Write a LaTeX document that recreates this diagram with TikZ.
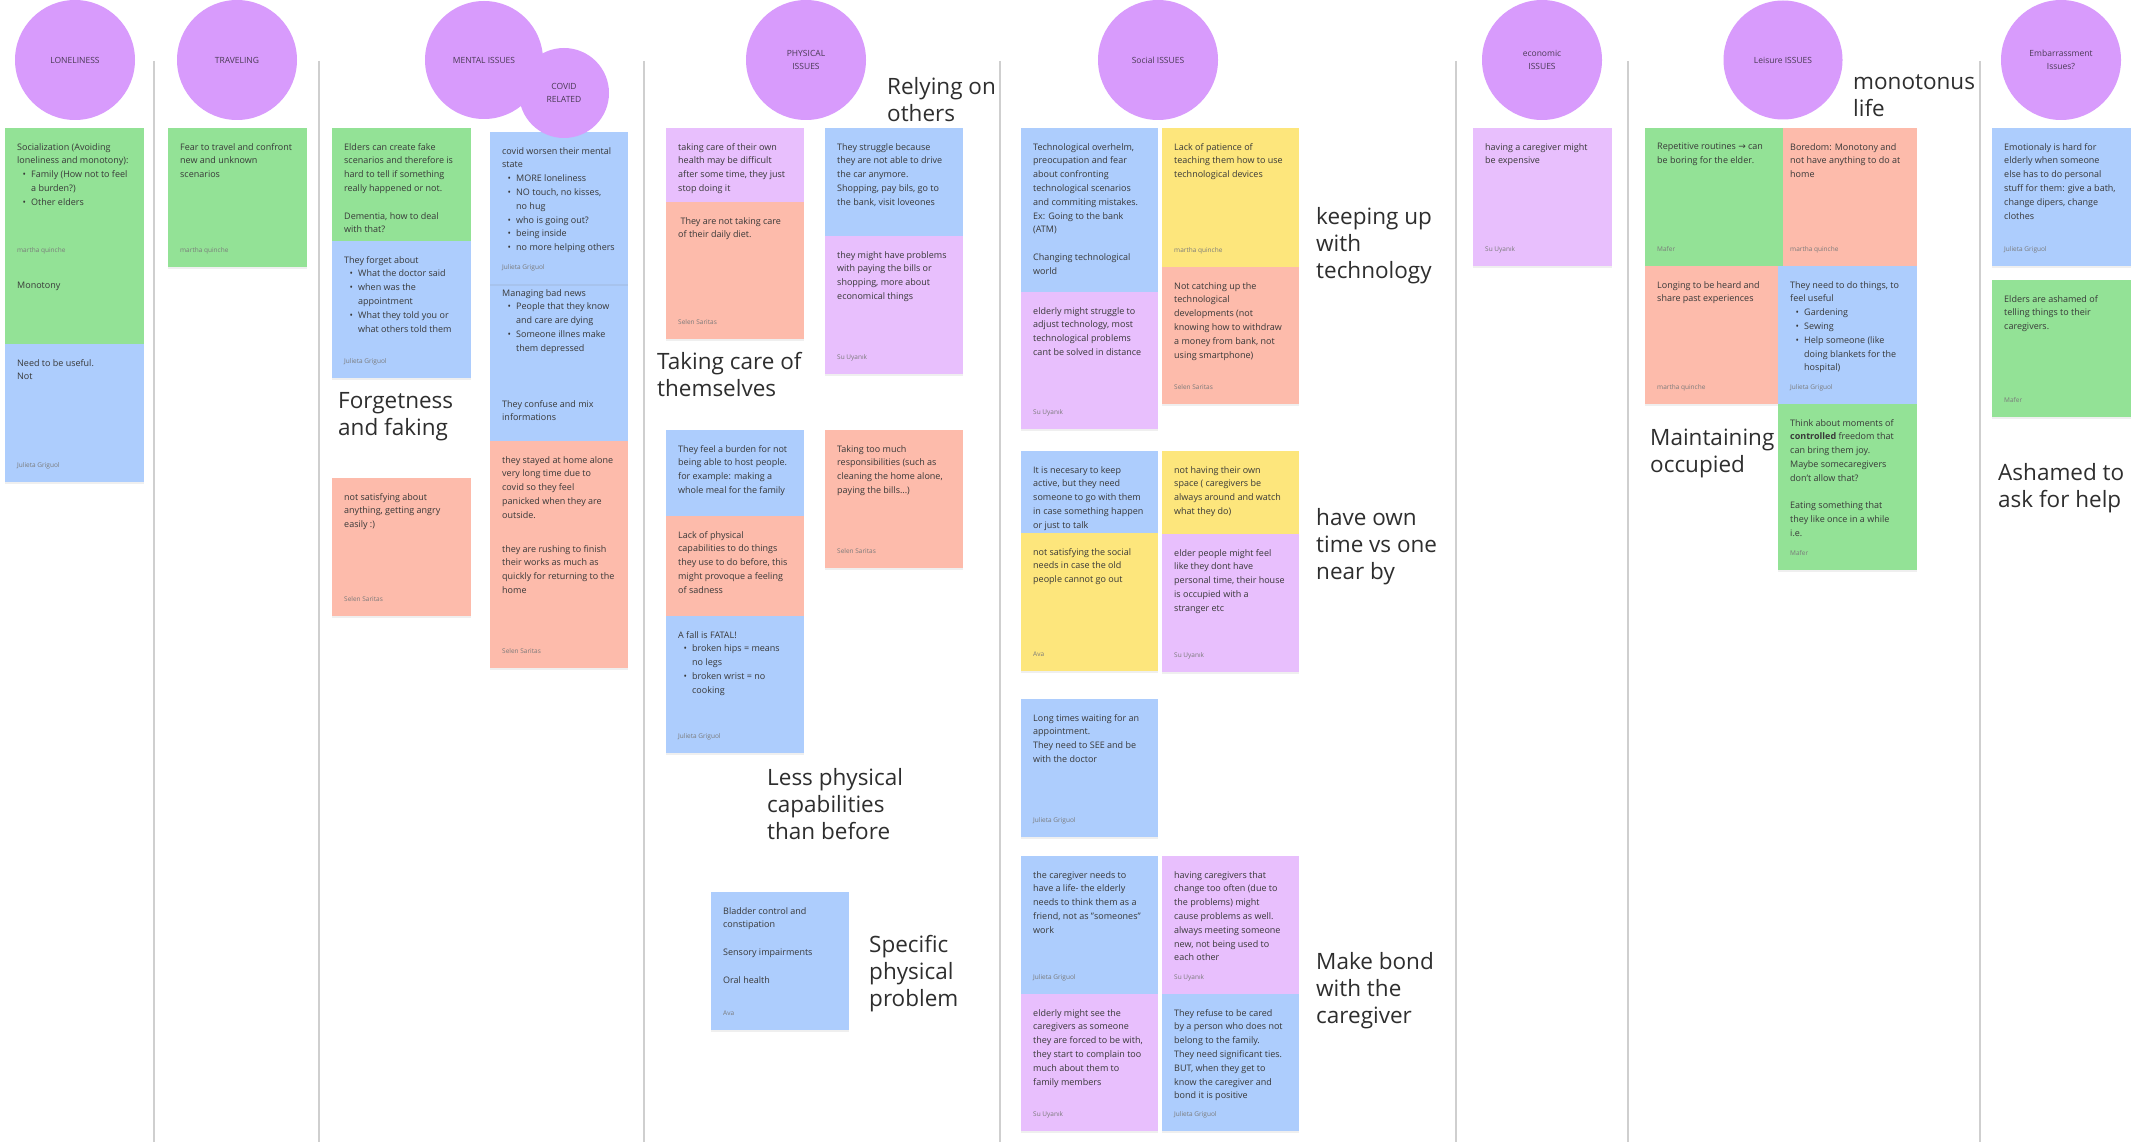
\documentclass[tikz,border=0pt]{standalone}
\usepackage{fontspec}
\setmainfont{Open Sans}
\newfontfamily\arrowfont{DejaVu Sans}
\usetikzlibrary{positioning,shadows}
\definecolor{bubble}{HTML}{D89BFC}
\definecolor{grn}{HTML}{93E296}
\definecolor{blu}{HTML}{ADCDFD}
\definecolor{salm}{HTML}{FDBBAB}
\definecolor{lil}{HTML}{E8BFFD}
\definecolor{yel}{HTML}{FDE67C}
\definecolor{ink}{HTML}{383838}
\definecolor{circink}{HTML}{4A3A55}
\definecolor{whocol}{HTML}{7A7A7A}
\definecolor{bigink}{HTML}{2E2E2E}
\definecolor{rulecol}{HTML}{CFCFCF}
\newcommand{\itm}{\makebox[14pt][c]{\textbullet}}
\newcommand{\cnt}{\hspace*{14pt}}
\tikzset{
  stick/.style={fill=#1,minimum width=139pt,minimum height=139pt,anchor=north west,inner sep=0pt,
    drop shadow={opacity=0.12,shadow xshift=0pt,shadow yshift=-1.5pt}},
  txt/.style={font=\fontsize{9}{13.8}\selectfont,text=ink,align=left,inner sep=0pt},
  who/.style={font=\fontsize{6.5}{8}\selectfont,text=whocol,inner sep=0pt,text depth=0pt},
  issue/.style={circle,fill=bubble,minimum size=120pt,inner sep=0pt,align=center,
    font=\fontsize{8.5}{13.5}\selectfont,text=circink},
  big/.style={font=\fontsize{22.5}{27}\selectfont,text=bigink,align=left,anchor=north west,inner sep=0pt},
  divider/.style={rulecol,line width=1.5pt}
}
\begin{document}
\begin{tikzpicture}[x=1pt,y=-1pt]
  \fill[white] (0,0) rectangle (2136,1142);
  \useasboundingbox (0,0) rectangle (2136,1142);
  % column dividers
  \foreach \cx in {154,319,644,1000,1456,1628,1980}
    \draw[divider] (\cx,61) -- (\cx,1142);

  % loneliness
  \node[stick=grn] (lon1) at (5,128) {};
  \node[txt,below right=15pt and 12pt of lon1.north west] (lon1t) {Socialization (Avoiding\\loneliness and monotony):\\\itm Family (How not to feel\\\cnt a burden?)\\\itm Other elders};
  \node[who,above right=14.5pt and 12pt of lon1.south west] (lon1w) {martha quinche};
  \node[stick=grn] (lon2) at (5,267) {};
  \node[txt,below right=15pt and 12pt of lon2.north west] (lon2t) {Monotony};
  \node[stick=blu,minimum height=138pt] (lon3) at (5,344) {};
  \node[txt,below right=15pt and 12pt of lon3.north west] (lon3t) {Need to be useful.\\Not};
  \node[who,above right=14.5pt and 12pt of lon3.south west] (lon3w) {Julieta Griguol};

  % traveling
  \node[stick=grn] (trv1) at (168,128) {};
  \node[txt,below right=15pt and 12pt of trv1.north west] (trv1t) {Fear to travel and confront\\new and unknown\\scenarios};
  \node[who,above right=14.5pt and 12pt of trv1.south west] (trv1w) {martha quinche};

  % mental issues
  \node[stick=grn] (men1) at (332,128) {};
  \node[txt,below right=15pt and 12pt of men1.north west] (men1t) {Elders can create fake\\scenarios and therefore is\\hard to tell if something\\really happened or not.\\[13.8pt]Dementia, how to deal\\with that?};
  \node[stick=blu,minimum height=137pt] (men2) at (332,241) {};
  \node[txt,below right=15pt and 12pt of men2.north west] (men2t) {They forget about\\\itm What the doctor said\\\itm when was the\\\cnt appointment\\\itm What they told you or\\\cnt what others told them};
  \node[who,above right=14.5pt and 12pt of men2.south west] (men2w) {Julieta Griguol};
  \node[big] (forget) at (338,392) {Forgetness\\and faking};
  \node[stick=salm,minimum height=138pt] (men3) at (332,478) {};
  \node[txt,below right=15pt and 12pt of men3.north west] (men3t) {not satisfying about\\anything, getting angry\\easily :)};
  \node[who,above right=14.5pt and 12pt of men3.south west] (men3w) {Selen Saritas};

  \node[stick=blu,minimum width=138pt] (cov2) at (490,274) {};
  \node[txt,below right=15pt and 12pt of cov2.north west] (cov2t) {Managing bad news\\\itm People that they know\\\cnt and care are dying\\\itm Someone illnes make\\\cnt them depressed};
  \node[stick=blu,minimum width=138pt,minimum height=152pt] (cov1) at (490,132) {};
  \node[txt,below right=15pt and 12pt of cov1.north west] (cov1t) {covid worsen their mental\\state\\\itm MORE loneliness\\\itm NO touch, no kisses,\\\cnt no hug\\\itm who is going out?\\\itm being inside\\\itm no more helping others};
  \node[who,above right=14.5pt and 12pt of cov1.south west] (cov1w) {Julieta Griguol};
  \node[stick=blu,minimum width=138pt,minimum height=56pt,drop shadow={opacity=0}] (cov3) at (490,385) {};
  \node[txt,below right=15pt and 12pt of cov3.north west] (cov3t) {They confuse and mix\\informations};
  \node[stick=salm,minimum width=138pt] (cov4) at (490,441) {};
  \node[txt,below right=15pt and 12pt of cov4.north west] (cov4t) {they stayed at home alone\\very long time due to\\covid so they feel\\panicked when they are\\outside.};
  \node[stick=salm,minimum width=138pt,minimum height=138pt,drop shadow={opacity=0}] (cov5) at (490,530) {};
  \node[txt,below right=15pt and 12pt of cov5.north west] (cov5t) {they are rushing to finish\\their works as much as\\quickly for returning to the\\home};
  \node[who,above right=14.5pt and 12pt of cov5.south west] (cov5w) {Selen Saritas};

  % physical issues
  \node[stick=lil,minimum width=138pt] (phy1) at (666,128) {};
  \node[txt,below right=15pt and 12pt of phy1.north west] (phy1t) {taking care of their own\\health may be difficult\\after some time, they just\\stop doing it};
  \node[stick=salm,minimum width=138pt,minimum height=137pt] (phy2) at (666,202) {};
  \node[txt,below right=15pt and 12pt of phy2.north west] (phy2t) {\ They are not taking care\\of their daily diet.};
  \node[who,above right=14.5pt and 12pt of phy2.south west] (phy2w) {Selen Saritas};
  \node[big] (selfcare) at (657,352) {Taking care of\\themselves};
  \node[stick=blu,minimum width=138pt] (phy3) at (825,128) {};
  \node[txt,below right=15pt and 12pt of phy3.north west] (phy3t) {They struggle because\\they are not able to drive\\the car anymore.\\Shopping, pay bils, go to\\the bank, visit loveones};
  \node[stick=lil,minimum width=138pt,minimum height=138pt] (phy4) at (825,236) {};
  \node[txt,below right=15pt and 12pt of phy4.north west] (phy4t) {they might have problems\\with paying the bills or\\shopping, more about\\economical things};
  \node[who,above right=14.5pt and 12pt of phy4.south west] (phy4w) {Su Uyanık};
  \node[big] (relying) at (887,77) {Relying on\\others};

  \node[stick=blu,minimum width=138pt] (phy5) at (666,430) {};
  \node[txt,below right=15pt and 12pt of phy5.north west] (phy5t) {They feel a burden for not\\being able to host people.\\for example: making a\\whole meal for the family};
  \node[stick=salm,minimum width=138pt] (phy6) at (666,516) {};
  \node[txt,below right=15pt and 12pt of phy6.north west] (phy6t) {Lack of physical\\capabilities to do things\\they use to do before, this\\might provoque a feeling\\of sadness};
  \node[stick=blu,minimum width=138pt,minimum height=137pt] (phy7) at (666,616) {};
  \node[txt,below right=15pt and 12pt of phy7.north west] (phy7t) {A fall is FATAL!\\\itm broken hips = means\\\cnt no legs\\\itm broken wrist = no\\\cnt cooking};
  \node[who,above right=14.5pt and 12pt of phy7.south west] (phy7w) {Julieta Griguol};
  \node[stick=salm,minimum width=138pt,minimum height=138pt] (phy8) at (825,430) {};
  \node[txt,below right=15pt and 12pt of phy8.north west] (phy8t) {Taking too much\\responsibilities (such as\\cleaning the home alone,\\paying the bills...)};
  \node[who,above right=14.5pt and 12pt of phy8.south west] (phy8w) {Selen Saritas};
  \node[big] (lessphy) at (767,768) {Less physical\\capabilities\\than before};
  \node[stick=blu,minimum width=138pt,minimum height=138pt] (phy9) at (711,892) {};
  \node[txt,below right=15pt and 12pt of phy9.north west] (phy9t) {Bladder control and\\constipation\\[13.8pt]Sensory impairments\\[13.8pt]Oral health};
  \node[who,above right=14.5pt and 12pt of phy9.south west] (phy9w) {Ava};
  \node[big] (specific) at (869,935) {Specific\\physical\\problem};

  % social issues
  \node[stick=blu,minimum width=137pt,minimum height=170pt] (soc1) at (1021,128) {};
  \node[txt,below right=15pt and 12pt of soc1.north west] (soc1t) {Technological overhelm,\\preocupation and fear\\about confronting\\technological scenarios\\and commiting mistakes.\\Ex: Going to the bank\\(ATM)\\[13.8pt]Changing technological\\world};
  \node[stick=lil,minimum width=137pt,minimum height=137pt] (soc2) at (1021,292) {};
  \node[txt,below right=15pt and 12pt of soc2.north west] (soc2t) {elderly might struggle to\\adjust technology, most\\technological problems\\cant be solved in distance};
  \node[who,above right=14.5pt and 12pt of soc2.south west] (soc2w) {Su Uyanık};
  \node[stick=yel,minimum width=137pt] (soc3) at (1162,128) {};
  \node[txt,below right=15pt and 12pt of soc3.north west] (soc3t) {Lack of patience of\\teaching them how to use\\technological devices};
  \node[who,above right=14.5pt and 12pt of soc3.south west] (soc3w) {martha quinche};
  \node[stick=salm,minimum width=137pt,minimum height=137pt] (soc4) at (1162,267) {};
  \node[txt,below right=15pt and 12pt of soc4.north west] (soc4t) {Not catching up the\\technological\\developments (not\\knowing how to withdraw\\a money from bank, not\\using smartphone)};
  \node[who,above right=14.5pt and 12pt of soc4.south west] (soc4w) {Selen Saritas};
  \node[big] (techno) at (1316,207) {keeping up\\with\\technology};

  \node[stick=blu,minimum width=137pt] (soc5) at (1021,451) {};
  \node[txt,below right=15pt and 12pt of soc5.north west] (soc5t) {It is necesary to keep\\active, but they need\\someone to go with them\\in case something happen\\or just to talk};
  \node[stick=yel,minimum width=137pt,minimum height=138pt] (soc6) at (1021,533) {};
  \node[txt,below right=15pt and 12pt of soc6.north west] (soc6t) {not satisfying the social\\needs in case the old\\people cannot go out};
  \node[who,above right=14.5pt and 12pt of soc6.south west] (soc6w) {Ava};
  \node[stick=yel,minimum width=137pt] (soc7) at (1162,451) {};
  \node[txt,below right=15pt and 12pt of soc7.north west] (soc7t) {not having their own\\space ( caregivers be\\always around and watch\\what they do)};
  \node[stick=lil,minimum width=137pt,minimum height=138pt] (soc8) at (1162,534) {};
  \node[txt,below right=15pt and 12pt of soc8.north west] (soc8t) {elder people might feel\\like they dont have\\personal time, their house\\is occupied with a\\stranger etc};
  \node[who,above right=14.5pt and 12pt of soc8.south west] (soc8w) {Su Uyanık};
  \node[big] (owntime) at (1316,508) {have own\\time vs one\\near by};

  \node[stick=blu,minimum width=137pt,minimum height=138pt] (soc9) at (1021,699) {};
  \node[txt,below right=15pt and 12pt of soc9.north west] (soc9t) {Long times waiting for an\\appointment.\\They need to SEE and be\\with the doctor};
  \node[who,above right=14.5pt and 12pt of soc9.south west] (soc9w) {Julieta Griguol};

  \node[stick=blu,minimum width=137pt,minimum height=138pt] (soc10) at (1021,856) {};
  \node[txt,below right=15pt and 12pt of soc10.north west] (soc10t) {the caregiver needs to\\have a life- the elderly\\needs to think them as a\\friend, not as "someones"\\work};
  \node[who,above right=14.5pt and 12pt of soc10.south west] (soc10w) {Julieta Griguol};
  \node[stick=lil,minimum width=137pt,minimum height=138pt] (soc11) at (1162,856) {};
  \node[txt,below right=15pt and 12pt of soc11.north west] (soc11t) {having caregivers that\\change too often (due to\\the problems) might\\cause problems as well.\\always meeting someone\\new, not being used to\\each other};
  \node[who,above right=14.5pt and 12pt of soc11.south west] (soc11w) {Su Uyanık};
  \node[stick=lil,minimum width=137pt,minimum height=137pt] (soc12) at (1021,994) {};
  \node[txt,below right=15pt and 12pt of soc12.north west] (soc12t) {elderly might see the\\caregivers as someone\\they are forced to be with,\\they start to complain too\\much about them to\\family members};
  \node[who,above right=14.5pt and 12pt of soc12.south west] (soc12w) {Su Uyanık};
  \node[stick=blu,minimum width=137pt,minimum height=137pt] (soc13) at (1162,994) {};
  \node[txt,below right=15pt and 12pt of soc13.north west] (soc13t) {They refuse to be cared\\by a person who does not\\belong to the family.\\They need significant ties.\\BUT, when they get to\\know the caregiver and\\bond it is positive};
  \node[who,above right=14.5pt and 12pt of soc13.south west] (soc13w) {Julieta Griguol};
  \node[big] (bond) at (1316,952) {Make bond\\with the\\caregiver};

  % economic issues
  \node[stick=lil,minimum height=138pt] (eco1) at (1473,128) {};
  \node[txt,below right=15pt and 12pt of eco1.north west] (eco1t) {having a caregiver might\\be expensive};
  \node[who,above right=14.5pt and 12pt of eco1.south west] (eco1w) {Su Uyanık};

  % leisure issues
  \node[stick=salm,minimum height=138pt] (lei2) at (1778,128) {};
  \node[txt,below right=15pt and 12pt of lei2.north west] (lei2t) {Boredom: Monotony and\\not have anything to do at\\home};
  \node[who,above right=14.5pt and 12pt of lei2.south west] (lei2w) {martha quinche};
  \node[stick=grn,minimum width=138pt,minimum height=138pt] (lei1) at (1645,128) {};
  \node[txt,below right=15pt and 12pt of lei1.north west] (lei1t) {Repetitive routines {\arrowfont →} can\\be boring for the elder.};
  \node[who,above right=14.5pt and 12pt of lei1.south west] (lei1w) {Mafer};
  \node[stick=salm,minimum height=138pt] (lei3) at (1645,266) {};
  \node[txt,below right=15pt and 12pt of lei3.north west] (lei3t) {Longing to be heard and\\share past experiences};
  \node[who,above right=14.5pt and 12pt of lei3.south west] (lei3w) {martha quinche};
  \node[stick=blu,minimum height=138pt] (lei4) at (1778,266) {};
  \node[txt,below right=15pt and 12pt of lei4.north west] (lei4t) {They need to do things, to\\feel useful\\\itm Gardening\\\itm Sewing\\\itm Help someone (like\\\cnt doing blankets for the\\\cnt hospital)};
  \node[who,above right=14.5pt and 12pt of lei4.south west] (lei4w) {Julieta Griguol};
  \node[stick=grn,minimum height=166pt] (lei5) at (1778,404) {};
  \node[txt,below right=15pt and 12pt of lei5.north west] (lei5t) {Think about moments of\\\textbf{controlled} freedom that\\can bring them joy.\\Maybe somecaregivers\\don't allow that?\\[13.8pt]Eating something that\\they like once in a while\\i.e.};
  \node[who,above right=14.5pt and 12pt of lei5.south west] (lei5w) {Mafer};
  \node[big] (monoton) at (1853,74) {monotonus\\life};
  \node[big] (occupied) at (1650,429) {Maintaining\\occupied};

  % embarrassment issues
  \node[stick=blu,minimum height=138pt] (emb1) at (1992,128) {};
  \node[txt,below right=15pt and 12pt of emb1.north west] (emb1t) {Emotionaly is hard for\\elderly when someone\\else has to do personal\\stuff for them: give a bath,\\change dipers, change\\clothes};
  \node[who,above right=14.5pt and 12pt of emb1.south west] (emb1w) {Julieta Griguol};
  \node[stick=grn,minimum height=137pt] (emb2) at (1992,280) {};
  \node[txt,below right=15pt and 12pt of emb2.north west] (emb2t) {Elders are ashamed of\\telling things to their\\caregivers.};
  \node[who,above right=14.5pt and 12pt of emb2.south west] (emb2w) {Mafer};
  \node[big] (ashamed) at (1998,463) {Ashamed to\\ask for help};

  % headers
  \node[issue] (lonely) at (75,60) {LONELINESS};
  \node[issue] (travel) at (237,60) {TRAVELING};
  \node[issue,minimum size=118pt] (mental) at (484,60) {MENTAL ISSUES};
  \node[issue,minimum size=90pt] (covid) at (564,93) {COVID\\RELATED};
  \node[issue] (physical) at (806,60) {PHYSICAL\\ISSUES};
  \node[issue] (social) at (1158,60) {Social ISSUES};
  \node[issue] (economic) at (1542,60) {economic\\ISSUES};
  \node[issue,minimum size=119pt] (leisure) at (1783,60) {Leisure ISSUES};
  \node[issue] (embarr) at (2061,60) {Embarrassment\\Issues?};
\end{tikzpicture}
\end{document}
